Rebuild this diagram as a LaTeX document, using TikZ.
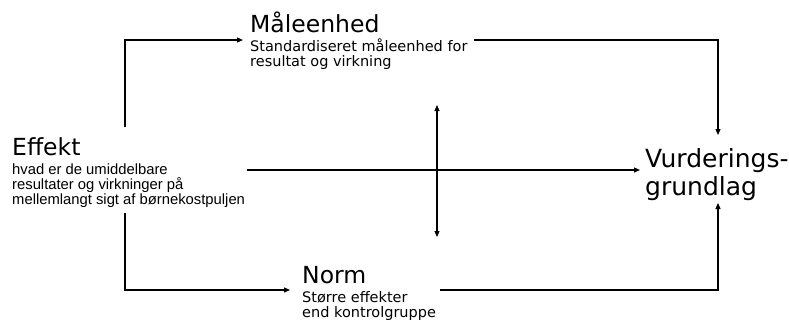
\documentclass[tikz,border=0pt]{standalone}
\usepackage{fontspec}
\setmainfont{DejaVu Sans}
\newfontfamily\arialf{Liberation Sans}
\usetikzlibrary{arrows.meta}
\tikzset{
  conn/.style={draw=black, line width=1.15pt},
  arr/.style={conn,-{Triangle[length=6pt,width=5pt]}},
  dblarr/.style={conn,{Triangle[length=6pt,width=5pt]}-{Triangle[length=6pt,width=5pt]}},
  ttl/.style={anchor=base west, inner sep=0pt, font=\fontsize{23.5}{28}\selectfont},
  bigttl/.style={anchor=base west, inner sep=0pt, font=\fontsize{25}{28}\selectfont},
  dsc/.style={anchor=base west, inner sep=0pt, font=\fontsize{14.5}{15}\selectfont},
  adsc/.style={anchor=base west, inner sep=0pt, font=\arialf\fontsize{14.8}{15}\selectfont}
}
\begin{document}
\begin{tikzpicture}[x=1pt,y=-1pt]
\useasboundingbox (0,0) rectangle (789,322);
% Effekt
\node[ttl] (eff) at (12,155) {Effekt};
\node[adsc] (eff1) at (12,174) {hvad er de umiddelbare};
\node[adsc] (eff2) at (12,189) {resultater og virkninger på};
\node[adsc] (eff3) at (12,204) {mellemlangt sigt af børnekostpuljen};
% Maaleenhed
\node[ttl] (maal) at (250,32) {Måleenhed};
\node[dsc] (maal1) at (250,51.5) {Standardiseret måleenhed for};
\node[dsc] (maal2) at (250,66.5) {resultat og virkning};
% Norm
\node[ttl] (norm) at (302,283) {Norm};
\node[dsc] (norm1) at (302,302) {Større effekter};
\node[dsc] (norm2) at (302,317) {end kontrolgruppe};
% Vurderingsgrundlag
\node[bigttl] (vur1) at (645,167) {Vurderings-};
\node[bigttl] (vur2) at (645,195) {grundlag};
% connector points
\coordinate (effUp) at (125,127);
\coordinate (effDown) at (125,213);
\coordinate (effRight) at (247,170);
\coordinate (maalIn) at (243,40);
\coordinate (maalOut) at (474,40);
\coordinate (normIn) at (290,290);
\coordinate (normOut) at (440,290);
\coordinate (vurTop) at (718,135);
\coordinate (vurBot) at (718,203);
\coordinate (vurLeft) at (640,170);
\coordinate (midTop) at (437,105);
\coordinate (midBot) at (437,237);
% connectors
\draw[arr] (effUp) |- (maalIn);
\draw[arr] (maalOut) -| (vurTop);
\draw[arr] (effDown) |- (normIn);
\draw[arr] (normOut) -| (vurBot);
\draw[arr] (effRight) -- (vurLeft);
\draw[dblarr] (midTop) -- (midBot);
\end{tikzpicture}
\end{document}
